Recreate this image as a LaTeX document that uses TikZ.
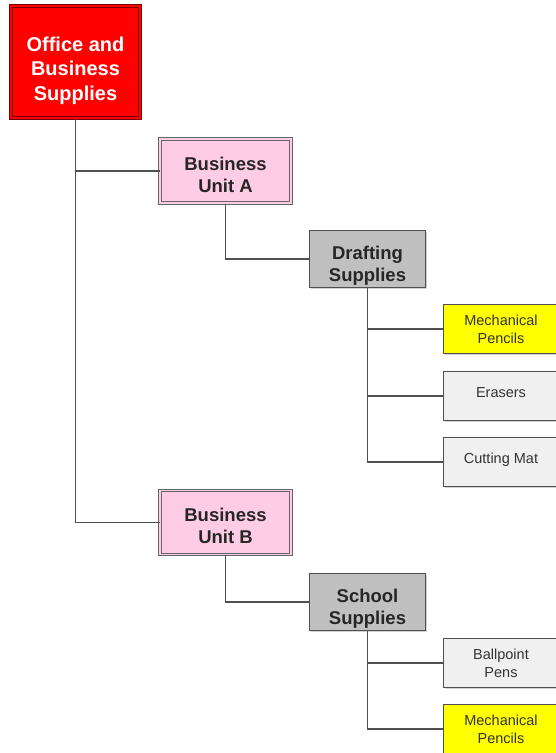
\documentclass[tikz,border=0pt]{standalone}
\usepackage{fontspec}
\setmainfont{Liberation Sans}
\usetikzlibrary{shadows}
\definecolor{rootred}{RGB}{255,0,0}
\definecolor{rootline}{RGB}{120,0,0}
\definecolor{unitpink}{RGB}{255,204,229}
\definecolor{groupgrey}{RGB}{192,192,192}
\definecolor{leafgrey}{RGB}{240,240,240}
\definecolor{leafyellow}{RGB}{255,255,0}
\definecolor{linegrey}{RGB}{80,80,80}
\newcommand{\boxlines}[2][0pt]{\raisebox{#1}[\height][\depth]{\begin{tabular}{@{}c@{}}#2\end{tabular}}}
\begin{document}
\begin{tikzpicture}[x=1pt,y=-1pt,
		box/.style={rectangle,inner sep=0pt,draw=linegrey,line width=1pt,
			drop shadow={shadow xshift=1.5pt,shadow yshift=-1.5pt,opacity=.35}},
		rootbox/.style={box,draw=rootline,double=rootred,double distance=2pt,fill=rootred,
			text=white,font=\fontsize{20}{24.5}\selectfont\bfseries,minimum width=129pt,minimum height=112pt},
		unitbox/.style={box,draw=gray!80!black,double=unitpink,double distance=1.5pt,fill=unitpink,
			text=black!85,font=\fontsize{18.5}{22}\selectfont\bfseries,minimum width=131pt,minimum height=64pt},
		groupbox/.style={box,fill=groupgrey,text=black!85,
			font=\fontsize{18.5}{22.5}\selectfont\bfseries,minimum width=116pt,minimum height=57pt},
		leafbox/.style={box,fill=leafgrey,text=black!80,anchor=west,
			font=\fontsize{14.5}{18}\selectfont,minimum width=115pt,minimum height=49pt},
		link/.style={draw=linegrey,line width=1.5pt}]
		\clip (0,0) rectangle (556,753);
		\fill[white] (0,0) rectangle (556,753);
		% top of the tree
		\node[rootbox] (office) at (75.5,62) {\boxlines[-9pt]{Office and\\Business\\Supplies}};
		\node[unitbox] (unitA) at (225.5,171) {\boxlines[-6pt]{Business\\Unit A}};
		\node[unitbox] (unitB) at (225.5,522.5) {\boxlines[-6pt]{Business\\Unit B}};
		% groups
		\node[groupbox] (drafting) at (367.5,259) {\boxlines[-7pt]{Drafting\\Supplies}};
		\node[groupbox] (school) at (367.5,602) {\boxlines[-7pt]{School\\Supplies}};
		% items
		\node[leafbox,fill=leafyellow] (mpencilsA) at (443,329) {\boxlines[-2pt]{Mechanical\\Pencils}};
		\node[leafbox] (erasers) at (443,396) {\boxlines[2pt]{Erasers}};
		\node[leafbox] (cuttingmat) at (443,462) {\boxlines[2pt]{Cutting Mat}};
		\node[leafbox] (ballpoint) at (443,663) {\boxlines[-2pt]{Ballpoint\\Pens}};
		\node[leafbox,fill=leafyellow] (mpencilsB) at (443,729) {\boxlines[-2pt]{Mechanical\\Pencils}};
		% connectors
		\draw[link] (office.south) |- (unitA.west);
		\draw[link] (office.south) |- (unitB.west);
		\draw[link] (unitA.south) |- (drafting.west);
		\draw[link] (unitB.south) |- (school.west);
		\draw[link] (drafting.south) |- (mpencilsA.west);
		\draw[link] (drafting.south) |- (erasers.west);
		\draw[link] (drafting.south) |- (cuttingmat.west);
		\draw[link] (school.south) |- (ballpoint.west);
		\draw[link] (school.south) |- (mpencilsB.west);
\end{tikzpicture}
\end{document}
